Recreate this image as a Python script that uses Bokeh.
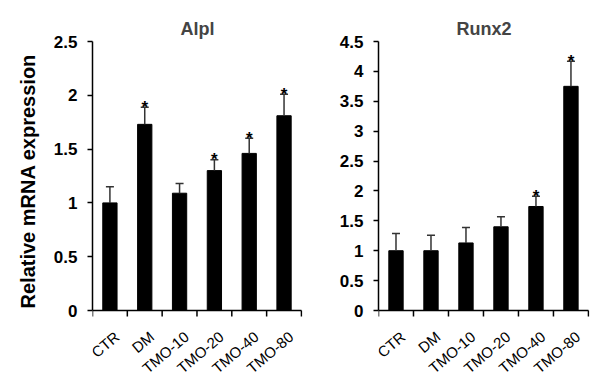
import math
from bokeh.plotting import figure
from bokeh.layouts import row
from bokeh.models import Range1d, FixedTicker, NumeralTickFormatter, ColumnDataSource
from bokeh.core.properties import value
from bokeh.embed import file_html
from bokeh.resources import INLINE

categories = ["CTR", "DM", "TMO-10", "TMO-20", "TMO-40", "TMO-80"]

alpl_mean = [1.00, 1.73, 1.09, 1.30, 1.46, 1.81]
alpl_err_top = [1.15, 1.89, 1.18, 1.40, 1.60, 2.01]
alpl_sig = [False, True, False, True, True, True]
alpl_ticks = [0, 0.5, 1, 1.5, 2, 2.5]

runx2_mean = [1.00, 1.00, 1.13, 1.40, 1.74, 3.75]
runx2_err_top = [1.29, 1.26, 1.39, 1.57, 1.91, 4.17]
runx2_sig = [False, False, False, False, True, True]
runx2_ticks = [0, 0.5, 1, 1.5, 2, 2.5, 3, 3.5, 4, 4.5]

FONT = "Liberation Sans"
HEIGHT = 376
TOP_BORDER = 41
PLOT_PX = 269                      # pixels between 0 and the top tick
BELOW_PX = HEIGHT - TOP_BORDER - PLOT_PX   # room under zero for category labels


def make_panel(title, means, errs, sig, yticks, width, border_left, border_right,
               title_offset, ylabel=None):
    n = len(categories)
    ymax = yticks[-1]
    centers = [i + 0.5 for i in range(n)]
    bounds = [i for i in range(n + 1)]
    p = figure(width=width, height=HEIGHT, output_backend="svg", toolbar_location=None,
               x_range=Range1d(0, n * 1.005),
               y_range=Range1d(-ymax * BELOW_PX / PLOT_PX, ymax),
               min_border_left=border_left, min_border_right=border_right,
               min_border_top=TOP_BORDER, min_border_bottom=0)
    p.outline_line_color = None
    p.xgrid.visible = False
    p.ygrid.visible = False
    p.xaxis.visible = False

    p.title.text = title
    p.title.text_font = FONT
    p.title.text_font_size = "18px"
    p.title.text_font_style = "bold"
    p.title.align = "center"
    p.title.offset = title_offset
    p.title.standoff = 6

    src = ColumnDataSource(dict(x=centers, top=means, err=errs,
                                zero=[0] * n, lab=categories))
    p.vbar(x="x", top="top", bottom=0, width=0.41, source=src,
           fill_color="black", line_color="black")
    p.segment(x0="x", y0="top", x1="x", y1="err", source=src,
              line_color="#333333", line_width=1.5)
    p.scatter(x="x", y="err", source=src, marker="dash", size=8,
              line_color="#333333", line_width=1.5)

    sx = [c for c, s in zip(centers, sig) if s]
    sy = [e for e, s in zip(errs, sig) if s]
    p.text(x=sx, y=sy, text=["*"] * len(sx), text_align="center",
           text_baseline="alphabetic", y_offset=0,
           text_font=value(FONT), text_font_style="bold", text_font_size="17px",
           text_color="black")

    # category axis: line at zero, ticks between categories, slanted labels
    p.segment(x0=[bounds[0]], y0=[0], x1=[bounds[-1]], y1=[0],
              line_color="black", line_width=1.5)
    p.ray(x=bounds, y=[0] * len(bounds), length=6, length_units="screen",
          angle=-math.pi / 2, line_color="black", line_width=1.5)
    p.text(x="x", y="zero", text="lab", source=src, angle=0.70,
           text_align="right", text_baseline="middle", x_offset=7, y_offset=24,
           text_font_size="15px", text_color="black")

    ya = p.yaxis[0]
    ya.bounds = (0, ymax)
    ya.ticker = FixedTicker(ticks=yticks, minor_ticks=[])
    ya.formatter = NumeralTickFormatter(format="0.[0]")
    ya.major_tick_out = 5
    ya.major_tick_in = 0
    ya.major_tick_line_color = "black"
    ya.major_tick_line_width = 1.5
    ya.minor_tick_line_color = None
    ya.axis_line_color = "black"
    ya.axis_line_width = 1.5
    ya.major_label_text_font = FONT
    ya.major_label_text_font_style = "bold"
    ya.major_label_text_font_size = "17px"
    ya.major_label_text_color = "black"
    ya.major_label_standoff = 10
    if ylabel:
        # leading no-break spaces lift the label to the centre of the 0..max span
        ya.axis_label = "\u00a0" * 10 + ylabel
        ya.axis_label_text_font = FONT
        ya.axis_label_text_font_style = "bold"
        ya.axis_label_text_font_size = "20px"
        ya.axis_label_text_color = "black"
        ya.axis_label_standoff = 12
    return p


p1 = make_panel("Alpl", alpl_mean, alpl_err_top, alpl_sig, alpl_ticks,
                width=317, border_left=92, border_right=15, title_offset=-16,
                ylabel="Relative mRNA expression")
p2 = make_panel("Runx2", runx2_mean, runx2_err_top, runx2_sig, runx2_ticks,
                width=274, border_left=61, border_right=2, title_offset=-14)

layout = row(p1, p2)
open("out.html", "w").write(file_html(layout, INLINE))
